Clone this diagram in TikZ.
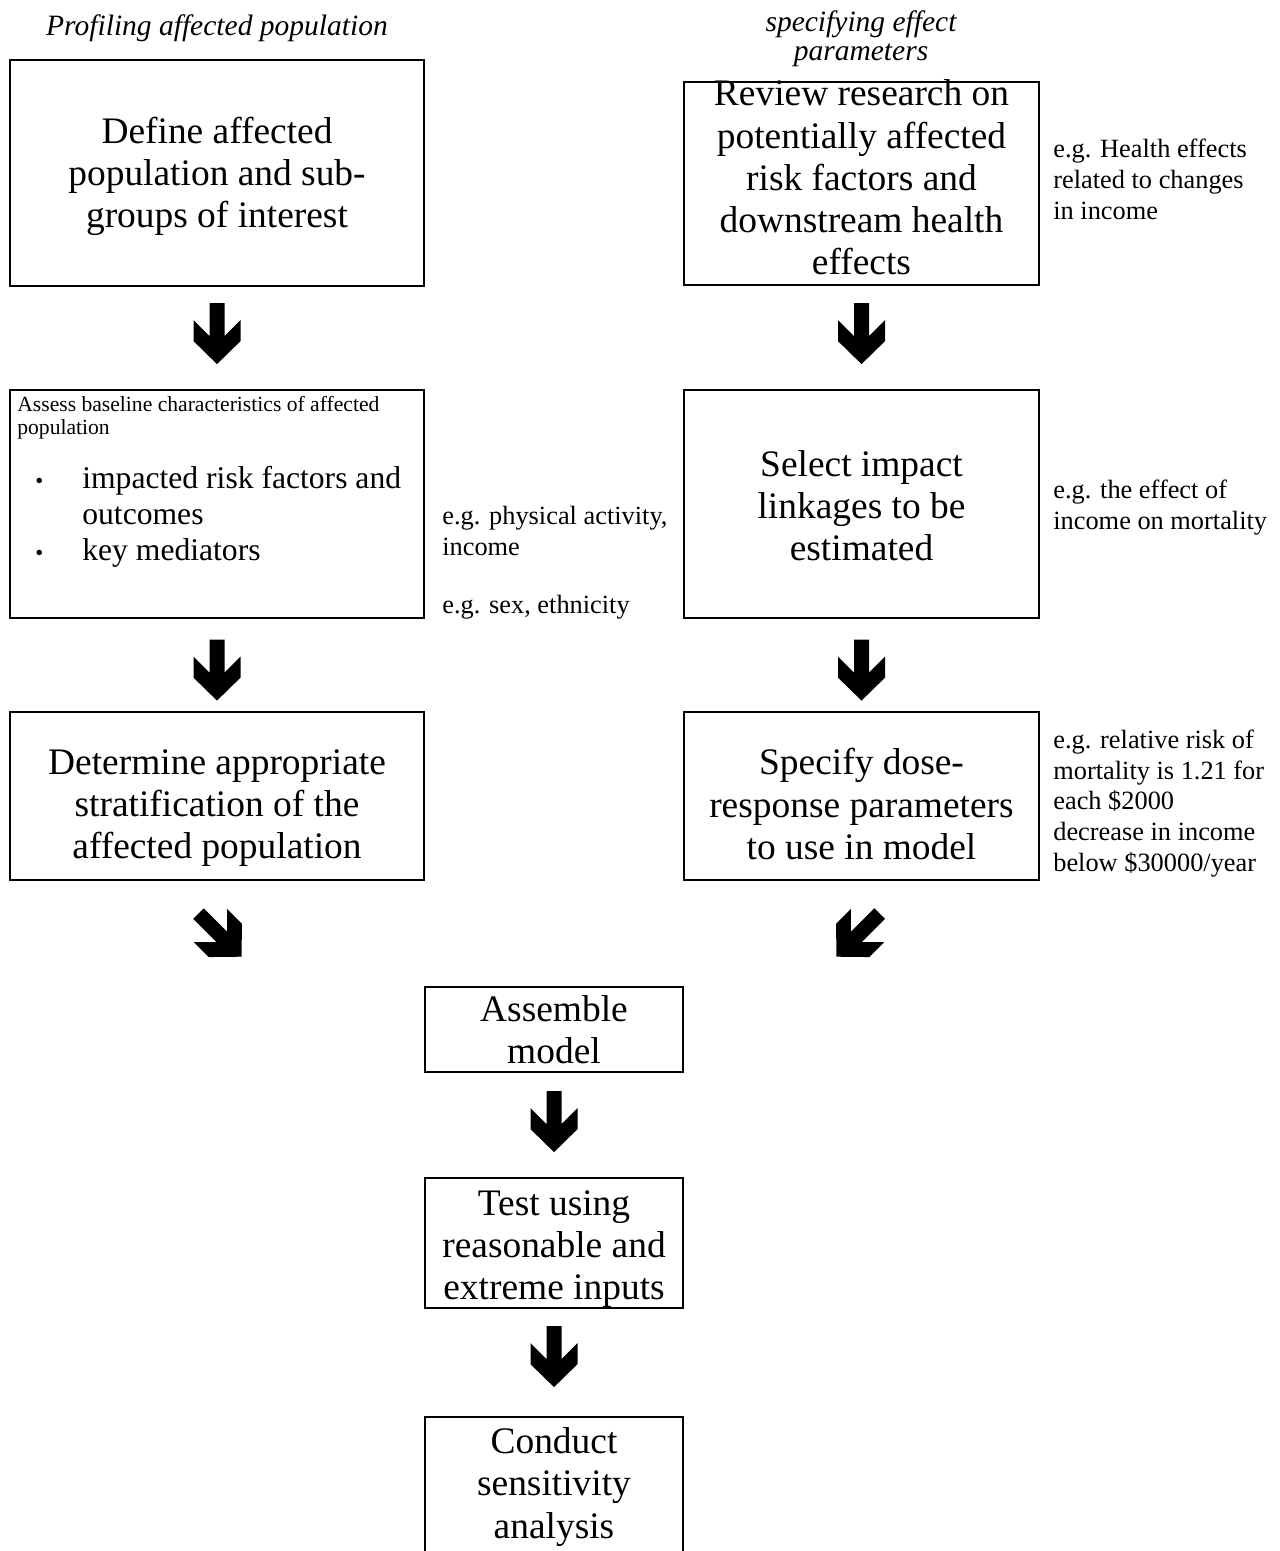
\documentclass[tikz,border=0pt]{standalone}
\usepackage{fontspec}
\setmainfont{Liberation Serif}
\usetikzlibrary{calc}
\tikzset{
  stepbox/.style={draw, line width=1.3pt, inner sep=0pt},
  steptext/.style={inner sep=0pt, align=center,
    font=\fontsize{21.3}{24}\selectfont},
  notetext/.style={inner sep=0pt, align=left, anchor=base west,
    font=\fontsize{15}{17.4}\selectfont},
  phasetext/.style={inner sep=0pt, align=center, anchor=base,
    font=\fontsize{16.8}{17}\selectfont\itshape},
  pics/blockarrow/.style={code={
    \fill (-7.5,-30.5) -- (7.5,-30.5) -- (7.5,2.5) -- (23.5,-13.5) -- (23.5,7.5)
      -- (0,30.5) -- (-23.5,7.5) -- (-23.5,-13.5) -- (-7.5,2.5) -- cycle;}}
}
\begin{document}
\begin{tikzpicture}[x=0.02cm,y=-0.02cm]
\useasboundingbox (0,0) rectangle (1279,1551);

	\node[phasetext] (profhead) at (217,36) {Profiling affected population};
	\node[phasetext] (spechead) at (861,61) {specifying effect\\parameters};

	\node[stepbox, minimum width=8.28cm, minimum height=4.52cm] (define) at (217,173) {};
	\node[stepbox, minimum width=7.1cm, minimum height=4.06cm] (review) at (861.5,183.5) {};
	\node[stepbox, minimum width=8.28cm, minimum height=4.56cm] (assess) at (217,504) {};
	\node[stepbox, minimum width=7.1cm, minimum height=4.56cm] (select) at (861.5,504) {};
	\node[stepbox, minimum width=8.28cm, minimum height=3.36cm] (stratify) at (217,796) {};
	\node[stepbox, minimum width=7.1cm, minimum height=3.36cm] (specify) at (861.5,796) {};
	\node[stepbox, minimum width=5.16cm, minimum height=1.7cm] (assemble) at (554,1029.5) {};
	\node[stepbox, minimum width=5.16cm, minimum height=2.6cm] (test) at (554,1243) {};
	\node[stepbox, minimum width=5.16cm, minimum height=2.8cm] (conduct) at (554,1487) {};

	\node[steptext] (definetxt) at ($(define.center)+(0,3.5)$)
		{Define affected\\population and sub-\\groups of interest};
	\node[steptext] (reviewtxt) at ($(review.center)+(0,-6)$)
		{Review research on\\potentially affected\\risk factors and\\downstream health\\effects};
	\node[steptext] (selecttxt) at ($(select.center)+(0,2)$)
		{Select impact\\linkages to be\\estimated};
	\node[steptext] (stratifytxt) at ($(stratify.center)+(0,12)$)
		{Determine appropriate\\stratification of the\\affected population};
	\node[steptext] (specifytxt) at ($(specify.center)+(0,8)$)
		{Specify dose-\\response parameters\\to use in model};
	\node[steptext] (assembletxt) at (assemble.center) {Assemble\\model};
	\node[steptext] (testtxt) at ($(test.center)+(0,6)$)
		{Test using\\reasonable and\\extreme inputs};
	\node[steptext] (conducttxt) at (conduct.center) {Conduct\\sensitivity\\analysis};

	\node[inner sep=0pt, align=left, anchor=base west, font=\fontsize{12.3}{13}\selectfont]
		(assesshead) at (17,434) {Assess baseline characteristics of affected\\population};
	\node[inner sep=0pt, anchor=base west, font=\fontsize{18}{20.6}\selectfont]
		(assessitems) at (17,488) {\begin{tabular}[t]{@{\hspace{0.36cm}}p{0.94cm}@{}l@{}}
		{\fontsize{13}{13}\selectfont\textbullet} & impacted risk factors and\\
		 & outcomes\\
		{\fontsize{13}{13}\selectfont\textbullet} & key mediators
		\end{tabular}};

	\node[notetext] (healthnote) at (1053,219) {e.g. Health effects\\related to changes\\in income};
	\node[notetext] (activnote) at (442,555) {e.g. physical activity,\\income};
	\node[notetext] (sexnote) at (442,613) {e.g. sex, ethnicity};
	\node[notetext] (effectnote) at (1053,529) {e.g. the effect of\\income on mortality};
	\node[notetext] (risknote) at (1053,871)
		{e.g. relative risk of\\mortality is 1.21 for\\each \$2000\\decrease in income\\below \$30000/year};

	\pic at ($(define.south)+(0,46.5)$) {blockarrow};
	\pic at ($(review.south)+(0,47.5)$) {blockarrow};
	\pic at ($(assess.south)+(0,51)$) {blockarrow};
	\pic at ($(select.south)+(0,51)$) {blockarrow};
	\pic[rotate=45] at ($(stratify.south)+(3,54)$) {blockarrow};
	\pic[rotate=-45] at ($(specify.south)+(-3.5,54)$) {blockarrow};
	\pic at ($(assemble.south)+(0,48.5)$) {blockarrow};
	\pic at ($(test.south)+(0,47.5)$) {blockarrow};

\end{tikzpicture}
\end{document}
